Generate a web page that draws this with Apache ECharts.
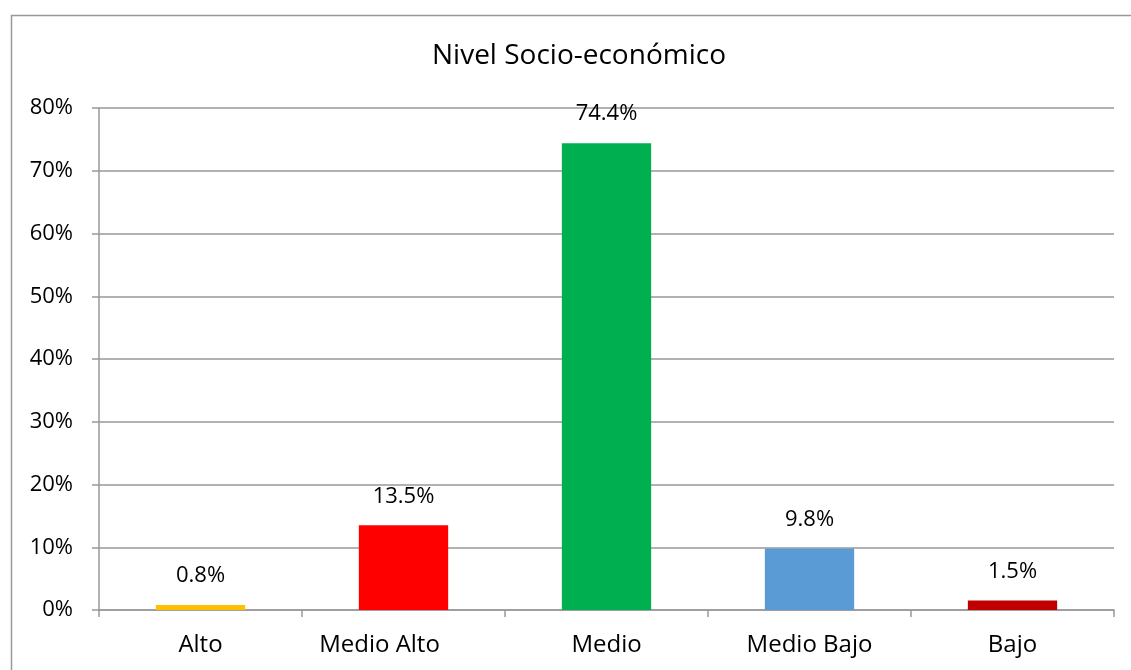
<!DOCTYPE html>
<html><head><meta charset="utf-8">
<script src="https://cdn.jsdelivr.net/npm/echarts@6/dist/echarts.min.js"></script>
<style>html,body{margin:0;padding:0;background:#fff}#c{width:1131px;height:670px}</style>
</head><body><div id="c"></div>
<script>
const categories = ['Alto', 'Medio Alto', 'Medio', 'Medio Bajo', 'Bajo'];
const values = [0.8, 13.5, 74.4, 9.8, 1.5];
const colors = ['#FFC000', '#FF0000', '#00B050', '#5B9BD5', '#C00000'];
const yTicks = [0, 10, 20, 30, 40, 50, 60, 70, 80];
const FONT = '"Open Sans", Lato, sans-serif';
const chart = echarts.init(document.getElementById('c'));
chart.setOption({
  animation: false,
  graphic: [{type: 'rect', shape: {x: 11.5, y: 15.5, width: 1130, height: 670}, style: {fill: 'none', stroke: '#999', lineWidth: 1.5}, silent: true}],
  title: {text: 'Nivel Socio-económico', left: 427, top: 37, textStyle: {fontFamily: FONT, fontWeight: 'normal', fontSize: 28, color: '#000'}},
  grid: {left: 99, right: 17, top: 108, bottom: 60, containLabel: false},
  xAxis: {
    type: 'category',
    data: categories.map((c, i) => i === 1 ? {value: c, textStyle: {padding: [0, 48, 0, 0]}} : c),
    axisLine: {lineStyle: {color: '#999', width: 1.5}},
    axisTick: {show: true, alignWithLabel: false, length: 7, lineStyle: {color: '#999', width: 1.5}},
    axisLabel: {fontFamily: FONT, fontSize: 24, color: '#000', margin: 23}
  },
  yAxis: {
    type: 'value', min: yTicks[0], max: yTicks[yTicks.length - 1], interval: 10,
    axisLine: {show: true, lineStyle: {color: '#999', width: 1.5}},
    axisTick: {show: true, length: 7, lineStyle: {color: '#999', width: 1.5}},
    axisLabel: {fontFamily: FONT, fontSize: 22, color: '#000', margin: 26, formatter: v => v + '%'},
    splitLine: {lineStyle: {color: '#999', width: 1.5}}
  },
  series: [{
    type: 'bar', barWidth: '44%',
    data: values.map((v, i) => ({value: v, itemStyle: {color: colors[i]}})),
    label: {show: true, position: 'top', distance: 18, fontFamily: FONT, fontSize: 22, color: '#000', formatter: p => p.value.toFixed(1) + '%'}
  }]
});
</script></body></html>
